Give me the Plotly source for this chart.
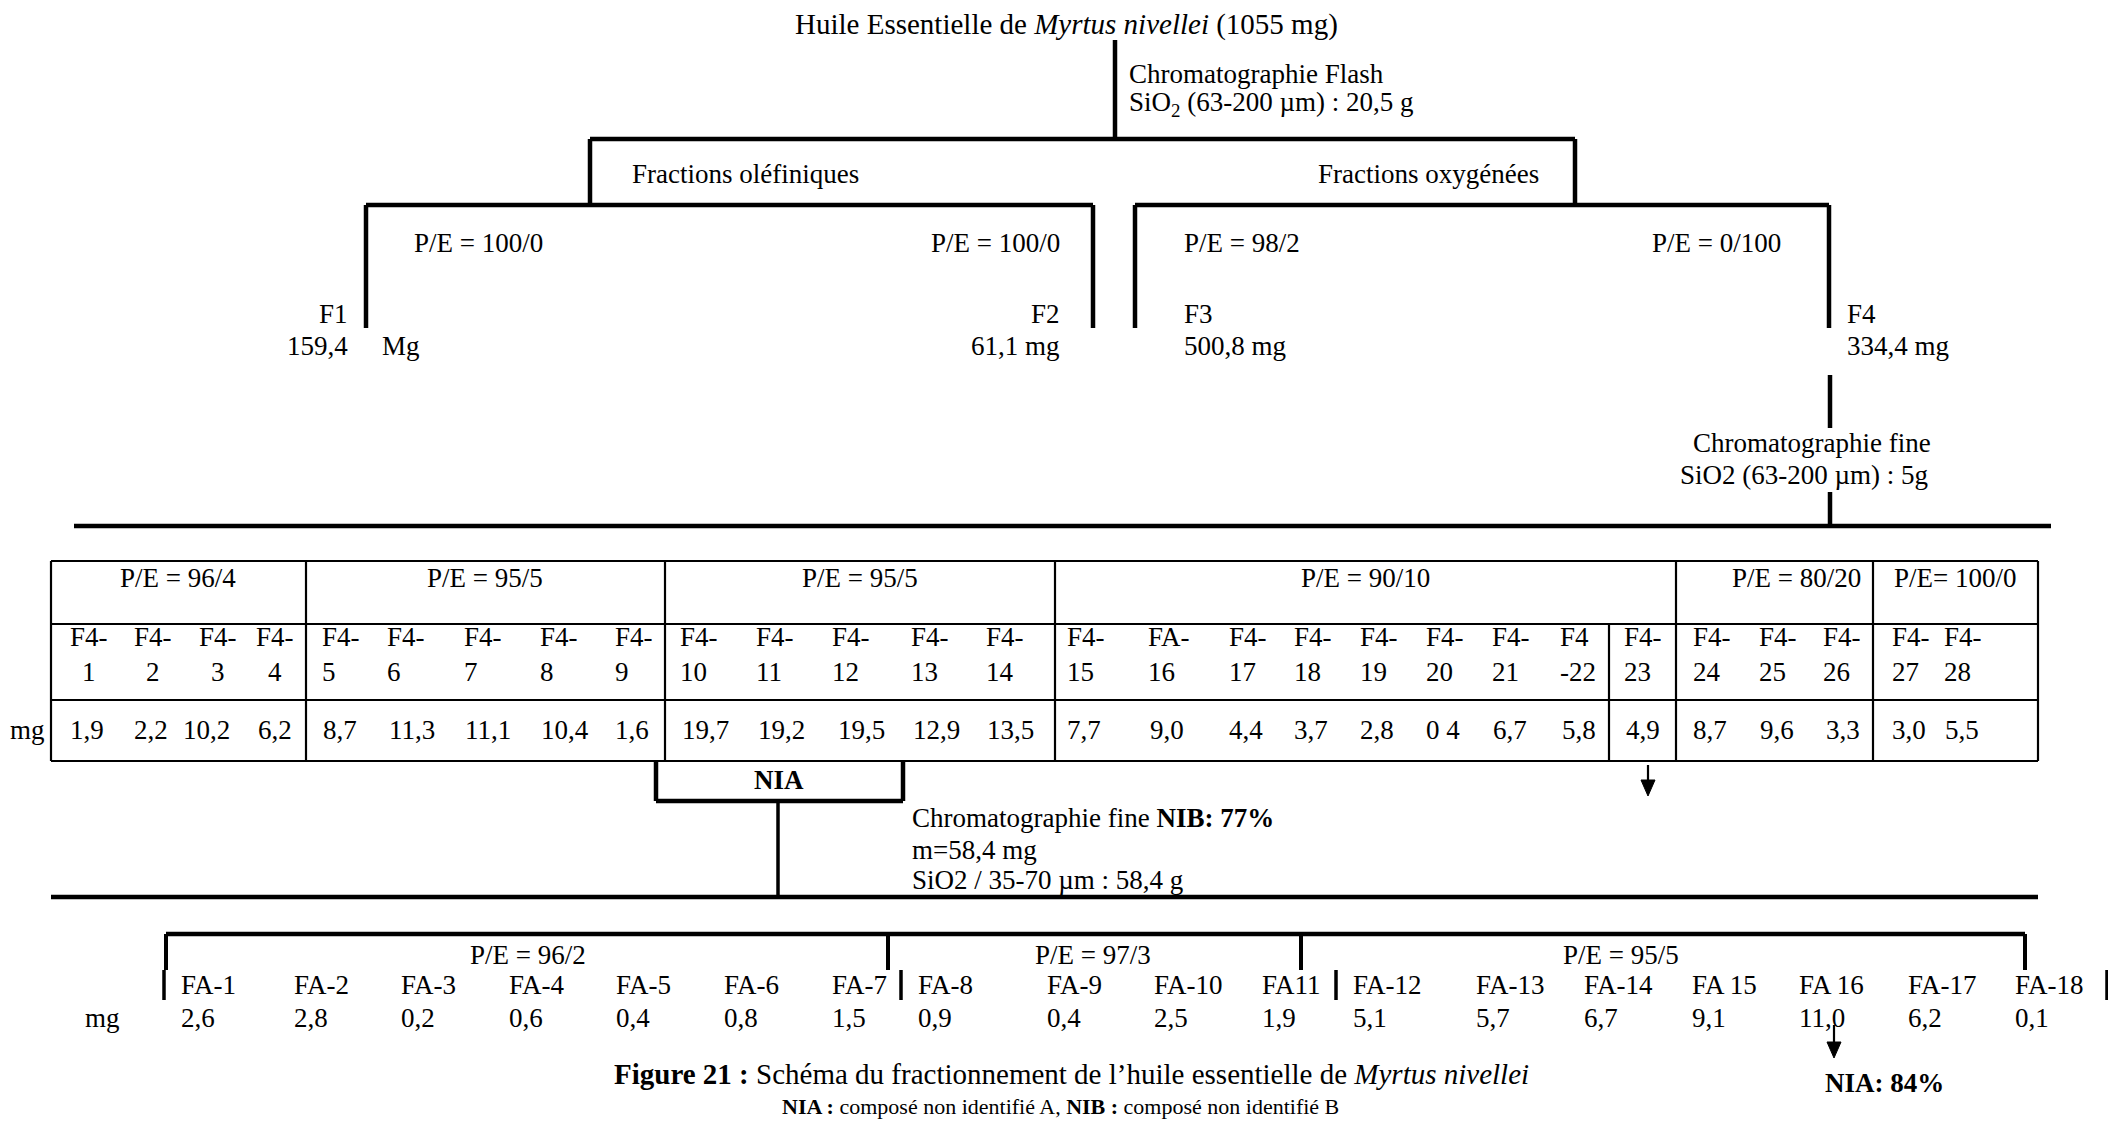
import plotly.graph_objects as go

# ---------------- data (texts and values) ----------------
title_top = "Huile Essentielle de <i>Myrtus nivellei</i> (1055 mg)"
flash_text = ["Chromatographie Flash", "SiO<sub>2</sub> (63-200 µm) : 20,5 g"]
family_labels = ["Fractions oléfiniques", "Fractions oxygénées"]
f_solvents = ["P/E = 100/0", "P/E = 100/0", "P/E = 98/2", "P/E = 0/100"]
f_names = ["F1", "F2", "F3", "F4"]
f_masses = ["159,4", "61,1 mg", "500,8 mg", "334,4 mg"]
f1_unit = "Mg"
fine_text = ["Chromatographie fine", "SiO2 (63-200 µm) : 5g"]

f4_groups = ["P/E = 96/4", "P/E = 95/5", "P/E = 95/5", "P/E = 90/10", "P/E = 80/20", "P/E= 100/0"]
f4_top = ["F4-"] * 15 + ["FA-"] + ["F4-"] * 5 + ["F4"] + ["F4-"] * 6
f4_num = ["1", "2", "3", "4", "5", "6", "7", "8", "9", "10", "11", "12", "13", "14",
          "15", "16", "17", "18", "19", "20", "21", "-22", "23", "24", "25", "26", "27", "28"]
f4_mg = ["1,9", "2,2", "10,2", "6,2", "8,7", "11,3", "11,1", "10,4", "1,6",
         "19,7", "19,2", "19,5", "12,9", "13,5",
         "7,7", "9,0", "4,4", "3,7", "2,8", "0 4", "6,7", "5,8", "4,9",
         "8,7", "9,6", "3,3", "3,0", "5,5"]

nia_label = "NIA"
nib_text = ["Chromatographie fine <b>NIB: 77%</b>", "m=58,4 mg", "SiO2 / 35-70 µm : 58,4 g"]

fa_groups = ["P/E = 96/2", "P/E = 97/3", "P/E = 95/5"]
fa_labels = ["FA-1", "FA-2", "FA-3", "FA-4", "FA-5", "FA-6", "FA-7", "FA-8", "FA-9", "FA-10",
             "FA11", "FA-12", "FA-13", "FA-14", "FA 15", "FA 16", "FA-17", "FA-18"]
fa_mg = ["2,6", "2,8", "0,2", "0,6", "0,4", "0,8", "1,5", "0,9", "0,4", "2,5",
         "1,9", "5,1", "5,7", "6,7", "9,1", "11,0", "6,2", "0,1"]
nia_result = "<b>NIA: 84%</b>"
caption = "<b>Figure 21 :</b> Schéma du fractionnement de l’huile essentielle de <i>Myrtus nivellei</i>"
legend_text = "<b>NIA :</b> composé non identifié A, <b>NIB :</b> composé non identifié B"

# ---------------- layout positions (pixels of the page) ----------------
W, H = 2116, 1129
PAGE_MARGIN = 8          # default body margin of the html page
FONT = "Liberation Serif, Times New Roman, serif"
FS = 27
THICK = 4.5
THIN = 2.2

f4_x = [68, 132, 197, 254, 320, 385, 462, 538, 613, 678, 754, 830, 909, 984,
        1065, 1146, 1227, 1292, 1358, 1424, 1490, 1558, 1622, 1691, 1757, 1821, 1890, 1942]
f4_val_x = [68, 132, 181, 256, 321, 387, 463, 539, 613, 680, 756, 836, 911, 985,
            1065, 1148, 1227, 1292, 1358, 1424, 1491, 1560, 1624, 1691, 1758, 1824, 1890, 1943]
f4_group_bounds = [51, 306, 665, 1055, 1676, 1873, 2038]
f4_group_cx = [178, 485, 860, 1365, 1796, 1955]
fa_x = [179, 292, 399, 507, 614, 722, 830, 916, 1045, 1152, 1260, 1351, 1474, 1582,
        1690, 1797, 1906, 2013]
fa_group_cx = [528, 1093, 1621]

shapes = []
annotations = []


def line(x0, y0, x1, y1, w=THICK):
    shapes.append(dict(type="line", xref="x", yref="y", x0=x0, y0=y0, x1=x1, y1=y1,
                       line=dict(color="black", width=w)))


def arrow(x, y0, y1):
    shapes.append(dict(type="line", xref="x", yref="y", x0=x, y0=y0, x1=x, y1=y1 - 14,
                       line=dict(color="black", width=THIN)))
    shapes.append(dict(type="path", xref="x", yref="y",
                       path=f"M {x-7},{y1-16} L {x+7},{y1-16} L {x},{y1} Z",
                       fillcolor="black", line=dict(color="black", width=1)))


def text(x, y, s, anchor="left", size=FS, align=None, pad=1):
    annotations.append(dict(x=x, y=y, xref="x", yref="y", text=s, showarrow=False,
                            xanchor=anchor, yanchor="middle", borderpad=pad,
                            align=align or ("left" if anchor == "left" else anchor),
                            font=dict(family=FONT, size=size, color="black")))


# ---- top tree ----
text(1066, 24, title_top, "center", size=29)
line(1115, 40, 1115, 139)
text(1127, 74, flash_text[0])
text(1127, 104, flash_text[1])
line(590, 139, 1575, 139)
line(590, 139, 590, 205)
line(1575, 139, 1575, 205)
text(630, 174, family_labels[0])
text(1541, 174, family_labels[1], "right")

line(366, 205, 1093, 205)
line(1135, 205, 1829, 205)
for xv in (366, 1093, 1135, 1829):
    line(xv, 205, xv, 328)

text(412, 243, f_solvents[0])
text(1062, 243, f_solvents[1], "right")
text(1182, 243, f_solvents[2])
text(1783, 243, f_solvents[3], "right")

text(350, 314, f_names[0], "right")
text(350, 346, f_masses[0], "right")
text(380, 346, f1_unit)
text(1062, 314, f_names[1], "right")
text(1062, 346, f_masses[1], "right")
text(1182, 314, f_names[2])
text(1182, 346, f_masses[2])
text(1845, 314, f_names[3])
text(1845, 346, f_masses[3])

line(1830, 375, 1830, 428)
text(1812, 443, fine_text[0], "center")
text(1804, 475, fine_text[1], "center")
line(1830, 492, 1830, 526)
line(74, 526, 2051, 526)

# ---- F4 table ----
T_TOP, T_R1, T_R2, T_BOT = 561, 624, 700, 761
for yv in (T_TOP, T_R1, T_R2, T_BOT):
    line(f4_group_bounds[0], yv, f4_group_bounds[-1], yv, THIN)
for xv in f4_group_bounds:
    line(xv, T_TOP, xv, T_BOT, THIN)
line(1609, T_R1, 1609, T_BOT, THIN)

for cx, g in zip(f4_group_cx, f4_groups):
    text(cx, 578, g, "center")

for i, (t, n) in enumerate(zip(f4_top, f4_num)):
    al = "center" if i < 4 else "left"
    text(f4_x[i], 654, f"{t}<br>{n}", "left", align=al)
    text(f4_val_x[i], 730, f4_mg[i])
text(47, 730, "mg", "right")

# ---- NIA box and second chromatography ----
line(656, T_BOT, 656, 801)
line(903, T_BOT, 903, 801)
line(656, 801, 903, 801)
text(779, 780, f"<b>{nia_label}</b>", "center")
line(778, 801, 778, 897, 3.5)
text(910, 818, nib_text[0])
text(910, 850, nib_text[1])
text(910, 880, nib_text[2])
line(51, 897, 2038, 897)
arrow(1648, T_BOT + 4, 796)

# ---- FA fractions ----
line(166, 934, 2025, 934)
for xv in (166, 888, 1301, 2025):
    line(xv, 934, xv, 970, 4)
for xv in (164, 901, 1336, 2107):
    line(xv, 970, xv, 1000, 3.5)
for cx, g in zip(fa_group_cx, fa_groups):
    text(cx, 955, g, "center")
for xv, lab, v in zip(fa_x, fa_labels, fa_mg):
    text(xv, 985, lab)
    text(xv, 1018, v)
text(122, 1018, "mg", "right")
arrow(1834, 1025, 1058)
text(1884, 1083, nia_result, "center")

text(1071, 1074, caption, "center", size=29, pad=0)
text(1060, 1106, legend_text, "center", size=22, pad=0)

fig = go.Figure()
fig.update_layout(
    width=W - 2 * PAGE_MARGIN, height=H - 2 * PAGE_MARGIN,
    margin=dict(l=0, r=0, t=0, b=0),
    paper_bgcolor="white", plot_bgcolor="white",
    xaxis=dict(range=[PAGE_MARGIN, W - PAGE_MARGIN], visible=False, fixedrange=True),
    yaxis=dict(range=[H - PAGE_MARGIN, PAGE_MARGIN], visible=False, fixedrange=True),
    shapes=shapes, annotations=annotations, showlegend=False,
)
fig.write_html("out.html")
